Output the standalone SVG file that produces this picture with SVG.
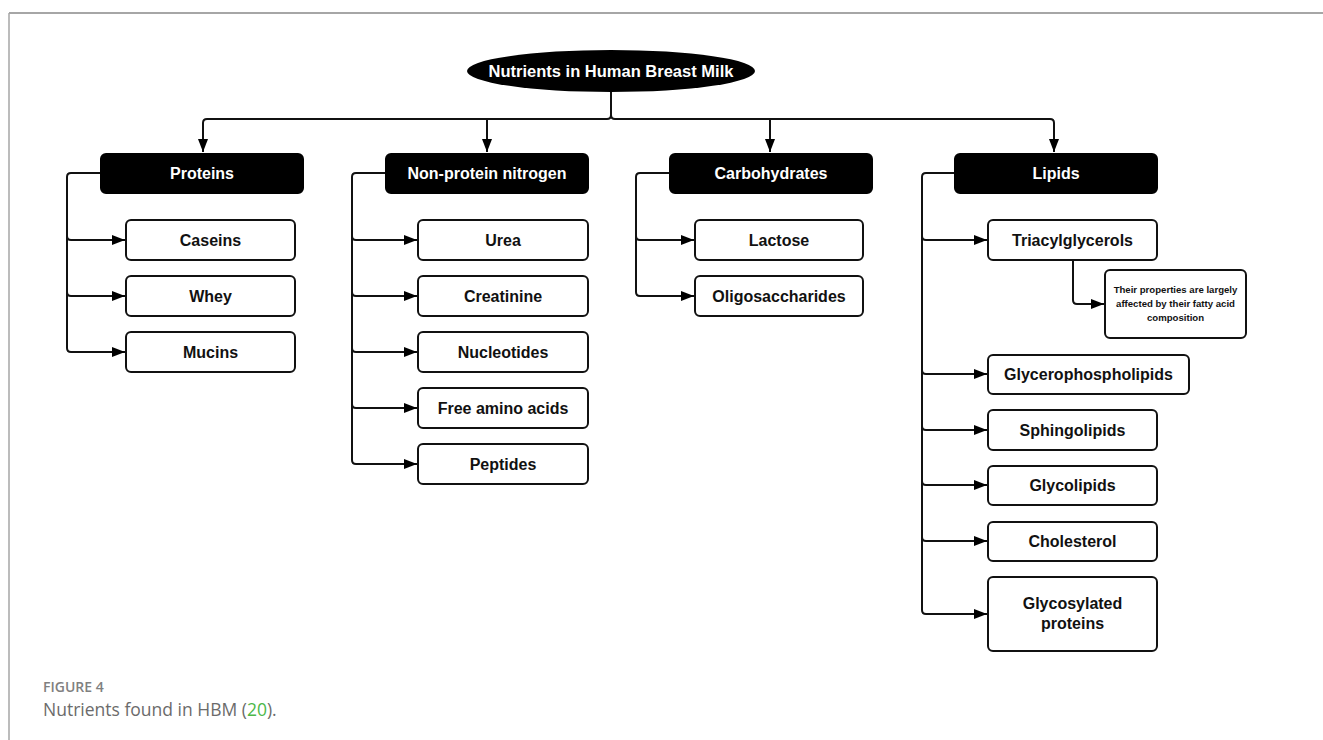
<svg xmlns="http://www.w3.org/2000/svg" width="1323" height="740" viewBox="0 0 1323 740">
<defs>
<style>
.hdr{fill:#000;stroke:#000;stroke-width:2}
.box{fill:#fff;stroke:#111;stroke-width:2}
.ht{fill:#fff;font-family:"Liberation Sans",Arial,sans-serif;font-weight:bold;font-size:16px;text-anchor:middle;dominant-baseline:central}
.bt{fill:#111;font-family:"Liberation Sans",Arial,sans-serif;font-weight:bold;font-size:16px;text-anchor:middle;dominant-baseline:central}
.nt{fill:#111;font-family:"Liberation Sans",Arial,sans-serif;font-weight:bold;font-size:9.6px;text-anchor:middle;dominant-baseline:central}
.c{fill:none;stroke:#111;stroke-width:2}
.ca{fill:none;stroke:#111;stroke-width:2;marker-end:url(#ah)}
</style>
<marker id="ah" viewBox="0 0 13 10" refX="13" refY="5" markerWidth="13" markerHeight="10" markerUnits="userSpaceOnUse" orient="auto">
<path d="M0,0 L13,5 L0,10 z" fill="#000"/>
</marker>
</defs>
<rect width="1323" height="740" fill="#fff"/>
<g id="frame">
<line x1="9" y1="13" x2="1323" y2="13" stroke="#a6a6a6" stroke-width="2"/>
<line x1="9" y1="13" x2="9" y2="740" stroke="#a6a6a6" stroke-width="1.5"/>
</g>
<g id="connectors">
<path class="c" d="M611 92 V115 Q611 119 607 119 H207 Q203 119 203 123 V128"/>
<path class="c" d="M611 115 Q611 119 615 119 H1050 Q1054 119 1054 123 V128"/>
<path class="ca" d="M203 125 V152"/>
<path class="ca" d="M1054 125 V152"/>
<path class="ca" d="M487 119 V152"/>
<path class="ca" d="M770 119 V152"/>
<path class="ca" d="M100 173 H71 Q67 173 67 177 V236 Q67 240 71 240 H125"/>
<path class="ca" d="M67 236 V292 Q67 296 71 296 H125"/>
<path class="ca" d="M67 292 V348 Q67 352 71 352 H125"/>
<path class="ca" d="M385 173 H356 Q352 173 352 177 V236 Q352 240 356 240 H417"/>
<path class="ca" d="M352 236 V292 Q352 296 356 296 H417"/>
<path class="ca" d="M352 292 V348 Q352 352 356 352 H417"/>
<path class="ca" d="M352 348 V404 Q352 408 356 408 H417"/>
<path class="ca" d="M352 404 V460 Q352 464 356 464 H417"/>
<path class="ca" d="M670 173 H640 Q636 173 636 177 V236 Q636 240 640 240 H694"/>
<path class="ca" d="M636 236 V292 Q636 296 640 296 H694"/>
<path class="ca" d="M954 173 H926 Q922 173 922 177 V236 Q922 240 926 240 H987"/>
<path class="ca" d="M1073 260 V300 Q1073 304 1077 304 H1104"/>
<path class="ca" d="M922 236 V370 Q922 374 926 374 H987"/>
<path class="ca" d="M922 370 V426 Q922 430 926 430 H987"/>
<path class="ca" d="M922 426 V481 Q922 485 926 485 H987"/>
<path class="ca" d="M922 481 V537 Q922 541 926 541 H987"/>
<path class="ca" d="M922 537 V610 Q922 614 926 614 H987"/>
</g>
<g id="root">
<ellipse cx="611" cy="71" rx="144" ry="21" fill="#000"/>
<text class="ht" x="611" y="71" style="font-size:16.5px">Nutrients in Human Breast Milk</text>
</g>
<g id="proteins"><rect class="hdr" x="101" y="154" width="202" height="39" rx="5"/><text class="ht" x="202" y="173">Proteins</text></g>
<g id="npn"><rect class="hdr" x="386" y="154" width="202" height="39" rx="5"/><text class="ht" x="487" y="173">Non-protein nitrogen</text></g>
<g id="carbs"><rect class="hdr" x="670" y="154" width="202" height="39" rx="5"/><text class="ht" x="771" y="173">Carbohydrates</text></g>
<g id="lipids"><rect class="hdr" x="955" y="154" width="202" height="39" rx="5"/><text class="ht" x="1056" y="173">Lipids</text></g>

<g id="caseins"><rect class="box" x="126" y="220" width="169" height="40" rx="5"/><text class="bt" x="210.5" y="240">Caseins</text></g>
<g id="whey"><rect class="box" x="126" y="276" width="169" height="40" rx="5"/><text class="bt" x="210.5" y="296">Whey</text></g>
<g id="mucins"><rect class="box" x="126" y="332" width="169" height="40" rx="5"/><text class="bt" x="210.5" y="352">Mucins</text></g>

<g id="urea"><rect class="box" x="418" y="220" width="170" height="40" rx="5"/><text class="bt" x="503" y="240">Urea</text></g>
<g id="creatinine"><rect class="box" x="418" y="276" width="170" height="40" rx="5"/><text class="bt" x="503" y="296">Creatinine</text></g>
<g id="nucleotides"><rect class="box" x="418" y="332" width="170" height="40" rx="5"/><text class="bt" x="503" y="352">Nucleotides</text></g>
<g id="faa"><rect class="box" x="418" y="388" width="170" height="40" rx="5"/><text class="bt" x="503" y="408">Free amino acids</text></g>
<g id="peptides"><rect class="box" x="418" y="444" width="170" height="40" rx="5"/><text class="bt" x="503" y="464">Peptides</text></g>

<g id="lactose"><rect class="box" x="695" y="220" width="168" height="40" rx="5"/><text class="bt" x="779" y="240">Lactose</text></g>
<g id="oligo"><rect class="box" x="695" y="276" width="168" height="40" rx="5"/><text class="bt" x="779" y="296">Oligosaccharides</text></g>

<g id="tag"><rect class="box" x="988" y="220" width="169" height="40" rx="5"/><text class="bt" x="1072.5" y="240">Triacylglycerols</text></g>
<g id="note"><rect class="box" x="1105" y="270" width="141" height="68" rx="5"/>
<text class="nt" x="1175.5" y="289">Their properties are largely</text>
<text class="nt" x="1175.5" y="303">affected by their fatty acid</text>
<text class="nt" x="1175.5" y="317">composition</text></g>
<g id="gpl"><rect class="box" x="988" y="355" width="201" height="39" rx="5"/><text class="bt" x="1088.5" y="374">Glycerophospholipids</text></g>
<g id="sphingo"><rect class="box" x="988" y="410" width="169" height="40" rx="5"/><text class="bt" x="1072.5" y="430">Sphingolipids</text></g>
<g id="glycolipids"><rect class="box" x="988" y="466" width="169" height="39" rx="5"/><text class="bt" x="1072.5" y="485">Glycolipids</text></g>
<g id="chol"><rect class="box" x="988" y="522" width="169" height="39" rx="5"/><text class="bt" x="1072.5" y="541">Cholesterol</text></g>
<g id="glycoprot"><rect class="box" x="988" y="577" width="169" height="74" rx="5"/>
<text class="bt" x="1072.5" y="603">Glycosylated</text><text class="bt" x="1072.5" y="623">proteins</text></g>

<g id="caption" font-family="'Open Sans','Liberation Sans',sans-serif">
<text x="43" y="692" font-size="14" font-weight="600" fill="#808080">FIGURE 4</text>
<text x="43" y="716" font-size="17.5" fill="#6b6b6b">Nutrients found in HBM (<tspan fill="#4cb848">20</tspan>).</text>
</g>
</svg>
